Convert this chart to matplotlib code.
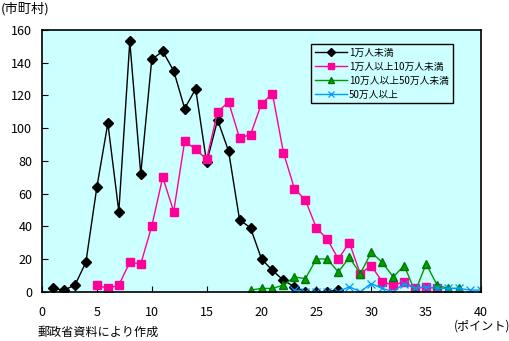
import matplotlib.pyplot as plt

plt.rcParams['font.family'] = ['Noto Sans CJK JP', 'DejaVu Sans']

# ポイント別の市町村数
x_small = list(range(1, 28))
small = [2, 1, 4, 18, 64, 103, 49, 153, 72, 142, 147, 135, 112, 124, 79, 105,
         86, 44, 39, 20, 13, 7, 3, 0, 0, 0, 1]

x_mid = list(range(5, 37))
mid = [4, 2, 4, 18, 17, 40, 70, 49, 92, 87, 81, 110, 116, 94, 96, 115, 121,
       85, 63, 56, 39, 32, 20, 30, 11, 16, 6, 4, 6, 2, 3, 2]

x_large = list(range(19, 39))
large = [1, 2, 2, 4, 9, 8, 20, 20, 12, 21, 11, 24, 18, 9, 16, 0, 17, 4, 2, 2]

x_big = list(range(23, 41))
big = [1, 0, 0, 0, 0, 3, 0, 5, 2, 0, 5, 2, 3, 2, 2, 2, 1, 1]

labels = ['1万人未満', '1万人以上10万人未満', '10万人以上50万人未満', '50万人以上']

fig = plt.figure(figsize=(5.10, 3.41), dpi=100)
ax = fig.add_axes([42 / 510, 1 - 291.7 / 341, 439 / 510, 261.7 / 341])
ax.set_facecolor('#CCFFFF')

ax.plot(x_small, small, color='black', lw=1, marker='D', ms=5.5, label=labels[0])
ax.plot(x_mid, mid, color='#FF0099', lw=1, marker='s', ms=6, label=labels[1])
ax.plot(x_large, large, color='#009900', lw=1, marker='^', ms=6,
        markerfacecolor='#00A000', markeredgecolor='#007700', label=labels[2])
ax.plot(x_big, big, color='#0099FF', lw=1, marker='x', ms=6, mew=0.9,
        label=labels[3])

ax.set_xlim(0, 40)
ax.set_ylim(0, 160)
ax.set_xticks(range(0, 41, 5))
ax.set_yticks(range(0, 161, 20))
ax.tick_params(direction='in', labelsize=9, length=4)
ax.tick_params(axis='x', pad=10)
ax.tick_params(axis='y', pad=7)
for s in ax.spines.values():
    s.set_linewidth(1.2)

leg = ax.legend(loc='upper left', bbox_to_anchor=(269 / 439, 1 - 14 / 261.7),
                borderaxespad=0, fontsize=7, frameon=True, fancybox=False,
                edgecolor='black', facecolor='#CCFFFF', framealpha=1,
                markerscale=0.8, handlelength=3.3, handletextpad=0.2,
                borderpad=0.4, labelspacing=0.4)
leg.get_frame().set_linewidth(1)

fig.text(1 / 510, 1 - 9 / 341, '(市町村)', fontsize=9.5, va='center', ha='left')
fig.text(38 / 510, 1 - 332 / 341, '郵政省資料により作成', fontsize=8.7,
         va='center', ha='left')
fig.text(510 / 510, 1 - 326 / 341, '(ポイント)', fontsize=8.7, va='center',
         ha='right')

fig.savefig('out.png', dpi=100)
